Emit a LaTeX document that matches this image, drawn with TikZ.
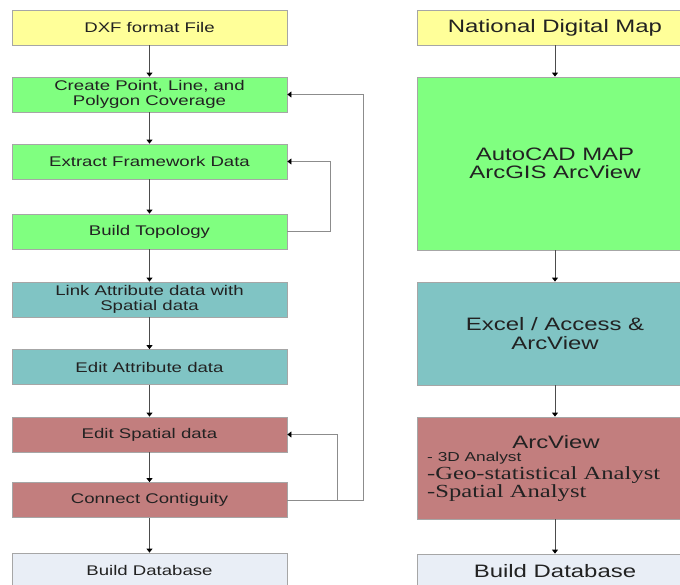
\documentclass[tikz,border=0pt]{standalone}
\usepackage{fontspec}
\setmainfont[FakeStretch=1.33]{Liberation Sans}
\newfontfamily\serffont[FakeStretch=1.33]{Liberation Serif}
\usetikzlibrary{arrows.meta}
\definecolor{boxyellow}{HTML}{FFFF99}
\definecolor{boxgreen}{HTML}{80FF80}
\definecolor{boxteal}{HTML}{80C4C4}
\definecolor{boxred}{HTML}{C27E7E}
\definecolor{boxgrey}{HTML}{E9EEF6}
\definecolor{txt}{HTML}{222222}

\begin{document}
\begin{tikzpicture}[x=1pt,y=-1pt,
  box/.style={draw=gray!70,line width=0.8pt,minimum width=275pt,minimum height=35pt,inner sep=0pt,align=center,text=txt,font=\fontsize{14}{14.5}\selectfont},
  bigbox/.style={box,font=\fontsize{18}{18.5}\selectfont},
  conn/.style={draw=black!70,line width=0.8pt,-{Triangle[length=4pt,width=6pt,color=black]}},
  fb/.style={draw=black!45,line width=0.8pt,-{Triangle[length=4pt,width=6pt,color=black]}}]
\clip (0,0) rectangle (680,584);
\fill[white] (0,0) rectangle (680,584);
\node[box,fill=boxyellow] (dxf) at (149.5,27.5) {DXF format File};
\node[box,fill=boxgreen] (create) at (149.5,94.5) {Create Point, Line, and\\Polygon Coverage};
\node[box,fill=boxgreen] (extract) at (149.5,161.5) {Extract Framework Data};
\node[box,fill=boxgreen] (topo) at (149.5,231.5) {Build Topology};
\node[box,fill=boxteal] (link) at (149.5,299.5) {Link Attribute data with\\Spatial data};
\node[box,fill=boxteal] (editattr) at (149.5,367) {Edit Attribute data};
\node[box,fill=boxred] (editsp) at (149.5,434.5) {Edit Spatial data};
\node[box,fill=boxred] (connect) at (149.5,500) {Connect Contiguity};
\node[box,fill=boxgrey] (dbleft) at (149.5,570.5) {Build Database};
\foreach \a/\b in {dxf/create,create/extract,extract/topo,topo/link,link/editattr,editattr/editsp,editsp/connect,connect/dbleft}
  \draw[conn] (\a) -- (\b);
\draw[fb] (topo.east) -- ++(43,0) |- (extract.east);
\draw[fb] (connect.east) -- ++(76,0) |- (create.east);
\draw[fb] ([xshift=50pt]connect.east) |- (editsp.east);
\node[bigbox,fill=boxyellow] (ndm) at (555,27.5) {National Digital Map};
\node[bigbox,fill=boxgreen,minimum height=173pt] (acad) at (555,163.5) {AutoCAD MAP\\ArcGIS ArcView};
\node[bigbox,fill=boxteal,minimum height=103pt] (excel) at (555,333.5) {Excel / Access \&\\ArcView};
\node[bigbox,fill=boxred,minimum height=102pt] (arcv) at (555,468) {};
\node[text=txt,font=\fontsize{18}{18.5}\selectfont] (arcvtitle) at (556,442) {ArcView};
\node[anchor=west,inner sep=0pt,text=txt,font=\fontsize{13}{13}\selectfont] (three) at (427,458) {- 3D Analyst};
\node[anchor=west,inner sep=0pt,text=txt,font=\serffont\fontsize{18.5}{18.5}\selectfont] (geo) at (427,475) {-Geo-statistical Analyst};
\node[anchor=west,inner sep=0pt,text=txt,font=\serffont\fontsize{18.5}{18.5}\selectfont] (spat) at (427,493) {-Spatial Analyst};
\node[bigbox,fill=boxgrey] (dbright) at (555,571.5) {Build Database};
\foreach \a/\b in {ndm/acad,acad/excel,excel/arcv,arcv/dbright}
  \draw[conn] (\a) -- (\b);
\end{tikzpicture}
\end{document}
